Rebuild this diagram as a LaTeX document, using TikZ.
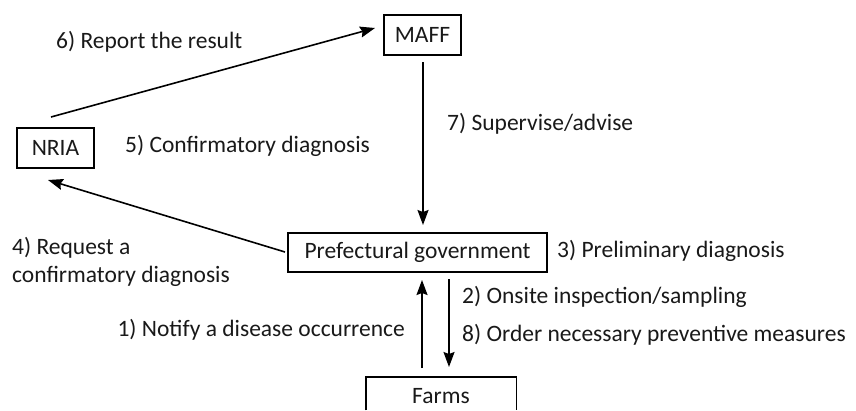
\documentclass[tikz,border=0pt]{standalone}
\usepackage{fontspec}
\setmainfont{Carlito}
\usetikzlibrary{arrows.meta}
\begin{document}
\begin{tikzpicture}[x=1pt,y=-1pt,
  box/.style={draw,line width=1.4pt,inner sep=0pt,font=\fontsize{23.5}{28}\selectfont,text=black!90},
  openbox/.style={inner sep=0pt,font=\fontsize{23.5}{28}\selectfont,text=black!90},
  lbl/.style={inner sep=0pt,font=\fontsize{23.5}{28}\selectfont,text=black!90},
  edge/.style={line width=1.4pt},
  conn/.style={line width=1.6pt,-{Stealth[length=15pt,width=11pt,inset=2pt]}}]
\useasboundingbox (0,0) rectangle (856,410);
\clip (0,0) rectangle (856,410);
\node[box,minimum width=77pt,minimum height=40pt] (maff) at (422.5,35) {MAFF};
\node[box,minimum width=77pt,minimum height=40pt] (nria) at (55.5,148) {NRIA};
\node[box,minimum width=259pt,minimum height=39pt] (pref) at (417.5,252.5) {Prefectural government};
\node[openbox,minimum width=150pt,minimum height=33pt,anchor=north] (farms) at (441,377) {};
\node[lbl,anchor=base] (farmstext) at (441,403) {Farms};
\draw[edge] (farms.south west) -- (farms.north west) -- (farms.north east) -- (farms.south east);
% connector end points
\coordinate (m1) at (423,62);
\coordinate (p1) at (423,225);
\coordinate (f1) at (422,368);
\coordinate (p2) at (422,280);
\coordinate (p3) at (449,279);
\coordinate (f2) at (449,367);
\coordinate (n1) at (51,117);
\coordinate (m2) at (375,28);
\coordinate (p4) at (285,252);
\coordinate (n2) at (48,180);
\draw[conn] (m1) -- (p1);
\draw[conn] (f1) -- (p2);
\draw[conn] (p3) -- (f2);
\draw[conn] (n1) -- (m2);
\draw[conn] (p4) -- (n2);
% labels
\node[lbl,anchor=west] (l6) at (56,42) {6) Report the result};
\node[lbl,anchor=west] (l5) at (125,146) {5) Confirmatory diagnosis};
\node[lbl,anchor=west] (l7) at (447,124) {7) Supervise/advise};
\node[lbl,anchor=west,align=left] (l4) at (12,262) {4) Request a\\confirmatory diagnosis};
\node[lbl,anchor=east] (l1) at (405,330) {1) Notify a disease occurrence};
\node[lbl,anchor=west] (l3) at (557,251) {3) Preliminary diagnosis};
\node[lbl,anchor=west] (l2) at (462,297) {2) Onsite inspection/sampling};
\node[lbl,anchor=west] (l8) at (462,335) {8) Order necessary preventive measures};
\end{tikzpicture}
\end{document}
